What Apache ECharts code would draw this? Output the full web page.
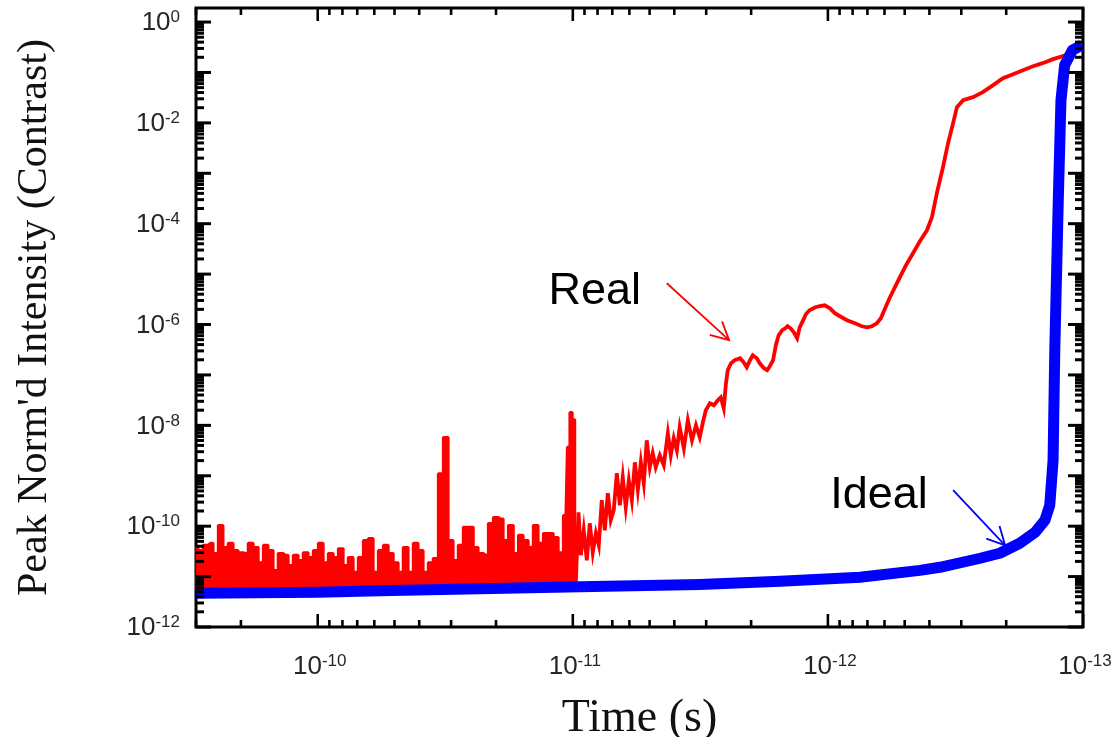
<!DOCTYPE html>
<html>
<head>
<meta charset="utf-8">
<script src="https://cdn.jsdelivr.net/npm/echarts@6/dist/echarts.min.js"></script>
<style>
  html, body { margin: 0; padding: 0; background: #ffffff; }
  #chart { width: 1118px; height: 737px; }
</style>
</head>
<body>
<div id="chart"></div>
<script>
// Time axis range (s) and intensity axis range (contrast)
const timeRange = [1e-13, 3.0e-10];
const intensityRange = [1e-12, 1.9];
const timeDecadeExponents = [-13, -12, -11, -10];
const intensityDecadeExponents = [-12, -11, -10, -9, -8, -7, -6, -5, -4, -3, -2, -1, 0];

// Measured contrast: noise floor part (drawn filled as a dense trace)
const realNoiseTime = [
  3.01e-10, 2.88e-10, 2.75e-10, 2.63e-10, 2.51e-10, 2.40e-10, 2.30e-10, 2.19e-10, 2.10e-10, 2.00e-10,
  1.92e-10, 1.83e-10, 1.75e-10, 1.67e-10, 1.60e-10, 1.53e-10, 1.46e-10, 1.40e-10, 1.335e-10, 1.276e-10,
  1.22e-10, 1.166e-10, 1.115e-10, 1.065e-10, 1.018e-10, 9.73e-11, 9.30e-11, 8.89e-11, 8.50e-11, 8.12e-11,
  7.77e-11, 7.42e-11, 7.10e-11, 6.78e-11, 6.48e-11, 6.20e-11, 5.92e-11, 5.66e-11, 5.41e-11, 5.17e-11,
  4.94e-11, 4.73e-11, 4.52e-11, 4.32e-11, 4.13e-11, 3.95e-11, 3.77e-11, 3.61e-11, 3.45e-11, 3.29e-11,
  3.15e-11, 3.01e-11, 2.88e-11, 2.75e-11, 2.63e-11, 2.51e-11, 2.40e-11, 2.30e-11, 2.19e-11, 2.10e-11,
  2.00e-11, 1.92e-11, 1.83e-11, 1.75e-11, 1.67e-11, 1.60e-11, 1.53e-11, 1.46e-11, 1.40e-11, 1.335e-11,
  1.276e-11, 1.22e-11, 1.166e-11, 1.115e-11, 1.065e-11, 1.037e-11, 1.018e-11, 9.91e-12, 9.73e-12
];
const realNoiseValue = [
  3.8e-11, 3.3e-11, 4.2e-11, 4.6e-11, 2.9e-11, 1.04e-10, 3.8e-11, 4.6e-11, 3.3e-11, 3.0e-11,
  2.9e-11, 4.6e-11, 3.8e-11, 1.9e-11, 4.2e-11, 3.3e-11, 1.33e-11, 2.9e-11, 2.65e-11, 1.67e-11,
  2.65e-11, 2.1e-11, 3.0e-11, 2.4e-11, 3.3e-11, 4.6e-11, 1.9e-11, 2.9e-11, 2.4e-11, 3.6e-11,
  1.67e-11, 2.4e-11, 1.22e-11, 2.4e-11, 5.2e-11, 5.7e-11, 1.22e-11, 3.3e-11, 4.2e-11, 2.9e-11,
  1.9e-11, 1.22e-11, 3.8e-11, 1.22e-11, 4.6e-11, 3.3e-11, 1.22e-11, 1.9e-11, 2.3e-11, 1.1e-9,
  5.8e-9, 5.2e-11, 2.1e-11, 4.2e-11, 9.6e-11, 9.6e-11, 3.8e-11, 2.9e-11, 2.65e-11, 1.14e-10,
  1.5e-10, 1.4e-10, 5.2e-11, 1.04e-10, 2.9e-11, 6.6e-11, 5.2e-11, 3.8e-11, 1.04e-10, 4.6e-11,
  7.2e-11, 7.2e-11, 6.0e-11, 3.0e-11, 1.64e-10, 3.7e-9, 1.8e-8, 1.3e-8, 7.7e-12
];
// Lower edge of the filled noise trace
const realNoiseFloor = 5.5e-12;

// Measured contrast: rising edge towards the pulse peak
const realRiseTime = [
  9.73e-12, 9.5e-12, 9.30e-12, 9.06e-12, 8.81e-12, 8.58e-12, 8.35e-12, 8.12e-12, 7.91e-12, 7.70e-12,
  7.49e-12, 7.29e-12, 7.10e-12, 6.91e-12, 6.72e-12, 6.54e-12, 6.37e-12, 6.20e-12, 6.03e-12, 5.87e-12,
  5.71e-12, 5.56e-12, 5.41e-12, 5.27e-12, 5.13e-12, 4.99e-12, 4.86e-12, 4.73e-12, 4.56e-12, 4.40e-12,
  4.24e-12, 4.13e-12, 4.02e-12, 3.91e-12, 3.81e-12, 3.67e-12, 3.54e-12, 3.41e-12, 3.29e-12, 3.18e-12,
  3.09e-12, 3.01e-12, 2.90e-12, 2.80e-12, 2.70e-12, 2.63e-12, 2.56e-12, 2.51e-12, 2.47e-12, 2.40e-12,
  2.32e-12, 2.21e-12, 2.14e-12, 2.08e-12, 2.02e-12, 1.97e-12, 1.90e-12, 1.85e-12, 1.78e-12, 1.73e-12,
  1.69e-12, 1.64e-12, 1.60e-12, 1.56e-12, 1.51e-12, 1.47e-12, 1.44e-12, 1.40e-12, 1.36e-12, 1.32e-12,
  1.29e-12, 1.25e-12, 1.22e-12, 1.18e-12, 1.12e-12, 1.075e-12, 1.03e-12, 9.82e-13, 9.39e-13, 8.97e-13,
  8.42e-13, 7.84e-13, 7.36e-13, 7.03e-13, 6.72e-13, 6.43e-13, 6.20e-13, 5.92e-13, 5.71e-13, 5.46e-13,
  5.22e-13, 4.94e-13, 4.64e-13, 4.36e-13, 4.09e-13, 3.91e-13, 3.74e-13, 3.54e-13, 3.38e-13, 3.23e-13,
  3.12e-13, 2.95e-13, 2.70e-13, 2.47e-13, 2.25e-13, 2.06e-13, 1.88e-13, 1.72e-13, 1.57e-13, 1.44e-13,
  1.31e-13, 1.20e-13, 1.075e-13
];
const realRiseValue = [
  7.7e-12, 1.89e-10, 2.65e-11, 8.3e-11, 2.1e-11, 1.14e-10, 3.03e-11, 7.2e-11, 4.18e-11, 3.27e-10,
  8.3e-11, 4.5e-10, 1.31e-10, 2.07e-10, 1.12e-9, 2.6e-10, 9.3e-10, 2.37e-10, 8.1e-10, 3.27e-10,
  1.85e-9, 5.2e-10, 1.85e-9, 7.1e-10, 5.06e-9, 1.47e-9, 2.8e-9, 1.47e-9, 2.55e-9, 1.62e-9,
  6.97e-9, 2.55e-9, 5.55e-9, 3.2e-9, 9.2e-9, 3.5e-9, 1.26e-8, 5.06e-9, 1.0e-8, 5.8e-9,
  1.15e-8, 1.99e-8, 2.75e-8, 2.5e-8, 3.15e-8, 3.6e-8, 2.18e-8, 6.8e-8, 1.24e-7, 1.7e-7,
  1.96e-7, 2.14e-7, 1.79e-7, 1.42e-7, 1.96e-7, 2.46e-7, 2.14e-7, 1.7e-7, 1.36e-7, 1.24e-7,
  1.49e-7, 1.96e-7, 3.88e-7, 6.1e-7, 7.7e-7, 8.4e-7, 9.25e-7, 8.4e-7, 7.0e-7, 5.35e-7,
  8.8e-7, 1.22e-6, 1.6e-6, 1.92e-6, 2.2e-6, 2.31e-6, 2.41e-6, 2.1e-6, 1.68e-6, 1.46e-6,
  1.22e-6, 1.06e-6, 9.25e-7, 8.8e-7, 9.25e-7, 1.06e-6, 1.33e-6, 2.3e-6, 3.48e-6, 5.5e-6,
  8.7e-6, 1.5e-5, 2.6e-5, 4.5e-5, 7.4e-5, 1.35e-4, 4.03e-4, 1.32e-3, 3.95e-3, 9.9e-3,
  2.05e-2, 2.82e-2, 3.24e-2, 4.07e-2, 5.6e-2, 7.7e-2, 9.25e-2, 0.111, 0.133, 0.153,
  0.184, 0.211, 0.253
];

// Ideal (transform-limited) contrast
const idealTime = [
  3.0e-10, 1e-10, 5.71e-11, 9.39e-12, 3.18e-12, 1.54e-12, 7.49e-13, 4.36e-13, 3.64e-13, 2.53e-13,
  2.12e-13, 1.77e-13, 1.54e-13, 1.41e-13, 1.35e-13, 1.31e-13, 1.29e-13, 1.25e-13, 1.22e-13, 1.18e-13,
  1.10e-13, 1.01e-13
];
const idealValue = [
  4.67e-12, 4.88e-12, 5.23e-12, 6.28e-12, 7.0e-12, 8.1e-12, 9.7e-12, 1.33e-11, 1.53e-11, 2.31e-11,
  2.9e-11, 4.58e-11, 7.57e-11, 1.31e-10, 2.6e-10, 2.03e-9, 3.09e-7, 2.93e-4, 2.82e-2, 0.14,
  0.277, 0.348
];

// Callout texts with their arrows, anchored in data space [time, intensity]
const callouts = [
  { text: 'Real', color: '#ff0000', at: [8.2e-12, 4.4e-6], from: [4.28e-12, 6.6e-6], to: [2.44e-12, 4.9e-7] },
  { text: 'Ideal', color: '#0000ff', at: [6.31e-13, 4.1e-10], from: [3.23e-13, 5.2e-10], to: [2.02e-13, 4.18e-11] }
];

const zip = (xs, ys) => xs.map((x, i) => [x, ys[i]]);

// Tick marks on all four sides of the frame: kind 0/1 = time minor/major, 2/3 = intensity minor/major
const frameTicks = [];
timeDecadeExponents.forEach(e => {
  const base = Math.pow(10, e);
  frameTicks.push([base, 1e-6, 1]);
  for (let m = 2; m <= 9; m++) {
    if (m * base <= timeRange[1] * 1.0001) frameTicks.push([m * base, 1e-6, 0]);
  }
});
intensityDecadeExponents.forEach(e => {
  const base = Math.pow(10, e);
  frameTicks.push([1e-11, base, 3]);
  for (let m = 2; m <= 9; m++) {
    if (m * base < intensityRange[1]) frameTicks.push([1e-11, m * base, 2]);
  }
});

const labelFont = 'Liberation Sans, Arial, sans-serif';
const labelRich = {
  b: { fontSize: 26, fontFamily: labelFont, fill: '#262626', color: '#262626', lineHeight: 28 },
  s: { fontSize: 17, fontFamily: labelFont, fill: '#262626', color: '#262626', lineHeight: 17, verticalAlign: 'top' }
};
function powerLabel(v) {
  return '{b|10}{s|' + Math.round(Math.log10(v)) + '}';
}

function renderFrameTicks(params, api) {
  const cs = params.coordSys;
  const left = cs.x, right = cs.x + cs.width, top = cs.y, bottom = cs.y + cs.height;
  const kind = api.value(2);
  const style = { stroke: '#000', lineWidth: 2.6 };
  const children = [];
  if (kind <= 1) {
    const px = api.coord([api.value(0), 1e-6])[0];
    const len = kind === 1 ? 13 : 7;
    children.push({ type: 'line', shape: { x1: px, y1: bottom, x2: px, y2: bottom - len }, style });
    children.push({ type: 'line', shape: { x1: px, y1: top, x2: px, y2: top + len }, style });
    if (kind === 1) {
      children.push({ type: 'text', x: px + 2, y: bottom + 40,
        style: { text: powerLabel(api.value(0)), rich: labelRich, align: 'center', verticalAlign: 'middle', fill: '#262626' } });
    }
  } else {
    const py = api.coord([1e-11, api.value(1)])[1];
    const len = kind === 3 ? 15 : 8;
    const yStyle = { stroke: '#000', lineWidth: 3 };
    children.push({ type: 'line', shape: { x1: left, y1: py, x2: left + len, y2: py }, style: yStyle });
    children.push({ type: 'line', shape: { x1: right, y1: py, x2: right - len, y2: py }, style: yStyle });
    const e = Math.round(Math.log10(api.value(1)));
    if (kind === 3 && e % 2 === 0) {
      children.push({ type: 'text', x: left - 16, y: py + 1,
        style: { text: powerLabel(api.value(1)), rich: labelRich, align: 'right', verticalAlign: 'middle', fill: '#262626' } });
    }
  }
  return { type: 'group', children };
}

const chart = echarts.init(document.getElementById('chart'), null, { renderer: 'canvas' });

chart.setOption({
  animation: false,
  backgroundColor: '#ffffff',
  grid: {
    left: 196, right: 35, top: 8, bottom: 110,
    show: true, borderColor: '#000', borderWidth: 3, backgroundColor: 'transparent',
    containLabel: false, outerBoundsMode: 'none'
  },
  xAxis: {
    type: 'log', logBase: 10, inverse: true,
    min: timeRange[0], max: timeRange[1],
    name: 'Time (s)', nameLocation: 'middle', nameGap: 69,
    nameTextStyle: { fontFamily: 'Liberation Serif, Times New Roman, serif', fontSize: 46, color: '#111' },
    axisLine: { show: false }, axisTick: { show: false }, axisLabel: { show: false },
    splitLine: { show: false }, minorTick: { show: false }
  },
  yAxis: {
    type: 'log', logBase: 10,
    min: intensityRange[0], max: intensityRange[1],
    name: "Peak Norm'd Intensity (Contrast)", nameLocation: 'middle', nameGap: 140,
    nameTextStyle: { fontFamily: 'Liberation Serif, Times New Roman, serif', fontSize: 42, color: '#111' },
    axisLine: { show: false }, axisTick: { show: false }, axisLabel: { show: false },
    splitLine: { show: false }, minorTick: { show: false }
  },
  series: [
    {
      name: 'Real', type: 'line', step: 'middle', symbol: 'none',
      data: zip(realNoiseTime, realNoiseValue),
      lineStyle: { color: '#ff0000', width: 2.8 },
      areaStyle: { color: '#ff0000', opacity: 1, origin: realNoiseFloor },
      z: 2
    },
    {
      name: 'Real', type: 'line', symbol: 'none',
      data: zip(realRiseTime, realRiseValue),
      lineStyle: { color: '#ff0000', width: 3.8, join: 'miter' },
      z: 2
    },
    {
      name: 'Ideal', type: 'line', symbol: 'none', clip: false,
      data: zip(idealTime, idealValue),
      lineStyle: { color: '#0000ff', width: 11, join: 'round', cap: 'butt' },
      z: 3
    },
    {
      type: 'custom', renderItem: renderFrameTicks, data: frameTicks,
      clip: false, silent: true, z: 4
    }
  ]
});

// Callout labels and open-headed arrows
const graphics = [];
callouts.forEach(c => {
  const at = chart.convertToPixel({ gridIndex: 0 }, c.at);
  const p0 = chart.convertToPixel({ gridIndex: 0 }, c.from);
  const p1 = chart.convertToPixel({ gridIndex: 0 }, c.to);
  graphics.push({
    type: 'text', x: at[0], y: at[1],
    style: { text: c.text, fontSize: 45, fontFamily: labelFont, fill: '#000',
      align: 'center', verticalAlign: 'middle' }
  });
  graphics.push({
    type: 'line', shape: { x1: p0[0], y1: p0[1], x2: p1[0], y2: p1[1] },
    style: { stroke: c.color, lineWidth: 1.8 }
  });
  const ang = Math.atan2(p0[1] - p1[1], p0[0] - p1[0]);
  const spread = 27 * Math.PI / 180, len = 20;
  graphics.push({
    type: 'polyline',
    shape: { points: [
      [p1[0] + len * Math.cos(ang + spread), p1[1] + len * Math.sin(ang + spread)],
      [p1[0], p1[1]],
      [p1[0] + len * Math.cos(ang - spread), p1[1] + len * Math.sin(ang - spread)]
    ] },
    style: { stroke: c.color, lineWidth: 1.8, fill: null }
  });
});
chart.setOption({ graphic: graphics });
</script>
</body>
</html>
